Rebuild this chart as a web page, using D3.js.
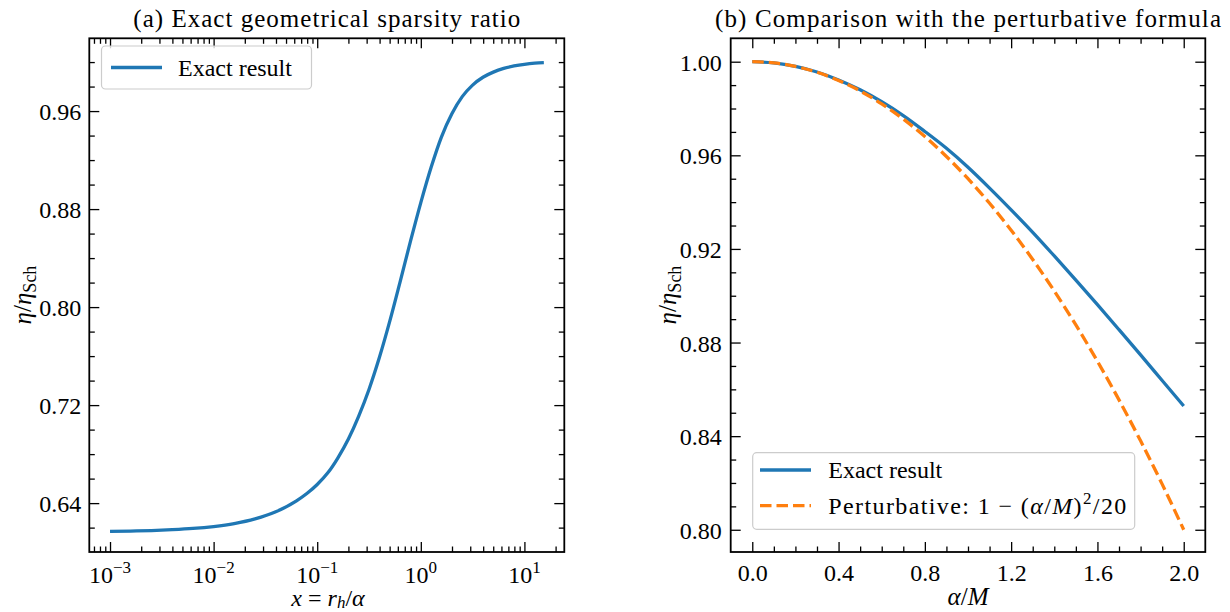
<!DOCTYPE html>
<html><head><meta charset="utf-8">
<script src="https://cdn.jsdelivr.net/npm/d3@7"></script>
<style>
body{margin:0;background:#fff}
svg{display:block}
svg text{font-family:"Liberation Serif","DejaVu Serif",serif !important;fill:#000}
</style>
</head><body>
<svg id="c" width="1230" height="612"></svg>
<script>
// ---------- data ----------
const ratioX = [0.001,0.00158,0.00251,0.00398,0.00631,0.01,0.0158,0.0251,0.0398,0.0631,0.0794,0.1,0.126,0.158,0.2,0.251,0.316,0.398,0.501,0.631,0.794,1.0,1.26,1.58,2.0,2.51,3.16,3.98,5.01,6.31,7.94,10.0,12.6,15.4];
const ratioY = [0.6169,0.6172,0.6176,0.6183,0.6193,0.6209,0.6233,0.6271,0.6329,0.6418,0.6478,0.6552,0.6645,0.6768,0.6923,0.7108,0.7328,0.7588,0.7883,0.8206,0.8536,0.8853,0.9143,0.9388,0.9580,0.9718,0.9812,0.9876,0.9918,0.9948,0.9968,0.9982,0.9991,0.9995];

const alphaM = [0,0.1,0.2,0.3,0.4,0.5,0.6,0.7,0.8,0.9,1.0,1.1,1.2,1.3,1.4,1.5,1.6,1.7,1.8,1.9,2.0];
const exactVals = [1.0000,0.9995,0.9980,0.9956,0.9922,0.9880,0.9829,0.9770,0.9702,0.9630,0.9549,0.9460,0.9367,0.9271,0.9170,0.9067,0.8962,0.8855,0.8747,0.8638,0.8529];
const pertVals = [1.0000,0.9995,0.9980,0.9955,0.9920,0.9875,0.9820,0.9755,0.9680,0.9595,0.9500,0.9395,0.9280,0.9155,0.9020,0.8875,0.8720,0.8555,0.8380,0.8195,0.8000];

const leftXTicks = [1e-3,1e-2,1e-1,1e0,1e1];
const leftXTickExp = ["\u22123","\u22122","\u22121","0","1"];
const leftYTicks = [0.64,0.72,0.80,0.88,0.96];
const rightXTicks = [0.0,0.4,0.8,1.2,1.6,2.0];
const rightYTicks = [0.80,0.84,0.88,0.92,0.96,1.00];
const titles = ["(a) Exact geometrical sparsity ratio","(b) Comparison with the perturbative formula"];
const legendLabels = ["Exact result","Perturbative: "];

const BLUE = "#1f77b4", ORANGE = "#ff7f0e";
const FONT = "'Liberation Serif','DejaVu Serif',serif";
const svg = d3.select("#c");
const TOP = 38.3, BOT = 552;

// ---------- scales ----------
const xL = d3.scaleLog().domain([Math.pow(10,-3.2), Math.pow(10,1.385)]).range([89.3,564.3]);
const yL = d3.scaleLinear().domain([0.6001,1.0194]).range([BOT,TOP]);
const xR = d3.scaleLinear().domain([-0.1,2.1]).range([730.7,1205.3]);
const yR = d3.scaleLinear().domain([0.7905,1.01]).range([BOT,TOP]);

// minor ticks
const leftXMinor = [];
for (let e=-4;e<=1;e++) for (let k=2;k<=9;k++){ const v=k*Math.pow(10,e); if (v>xL.domain()[0] && v<xL.domain()[1]) leftXMinor.push(v); }
const leftYMinor = d3.range(31,51).map(i=>i*0.02).filter(v=>v>yL.domain()[0] && v<yL.domain()[1] && !leftYTicks.some(t=>Math.abs(t-v)<1e-6));
const rightXMinor = d3.range(0,21).map(i=>i/10).filter(v=>!rightXTicks.some(t=>Math.abs(t-v)<1e-6));
const rightYMinor = d3.range(80,101).map(i=>i/100).filter(v=>!rightYTicks.some(t=>Math.abs(t-v)<1e-6));

function styleAxis(g){
  g.attr("font-family",FONT);
  g.select(".domain").remove();
  g.selectAll(".tick line").attr("stroke","#000").attr("stroke-width",1.3);
  g.selectAll(".tick text").attr("font-size",24).attr("fill","#000");
}

function drawFrame(x,y,xMaj,xMin,yMaj,yMin,fx,fy,xPad,yPad){
  const x0=x.range()[0], x1=x.range()[1];
  svg.append("g").attr("transform",`translate(0,${BOT})`)
    .call(d3.axisBottom(x).tickValues(xMaj).tickSize(-10).tickSizeOuter(0).tickPadding(xPad).tickFormat(fx)).call(styleAxis);
  svg.append("g").attr("transform",`translate(0,${BOT})`)
    .call(d3.axisBottom(x).tickValues(xMin).tickSize(-5.5).tickSizeOuter(0).tickFormat("")).call(styleAxis);
  svg.append("g").attr("transform",`translate(0,${TOP})`)
    .call(d3.axisTop(x).tickValues(xMaj).tickSize(-10).tickSizeOuter(0).tickFormat("")).call(styleAxis);
  svg.append("g").attr("transform",`translate(0,${TOP})`)
    .call(d3.axisTop(x).tickValues(xMin).tickSize(-5.5).tickSizeOuter(0).tickFormat("")).call(styleAxis);
  svg.append("g").attr("transform",`translate(${x0},0)`)
    .call(d3.axisLeft(y).tickValues(yMaj).tickSize(-10).tickSizeOuter(0).tickPadding(yPad).tickFormat(fy)).call(styleAxis)
    .selectAll(".tick text").attr("dy","0.36em");
  svg.append("g").attr("transform",`translate(${x0},0)`)
    .call(d3.axisLeft(y).tickValues(yMin).tickSize(-5.5).tickSizeOuter(0).tickFormat("")).call(styleAxis);
  svg.append("g").attr("transform",`translate(${x1},0)`)
    .call(d3.axisRight(y).tickValues(yMaj).tickSize(-10).tickSizeOuter(0).tickFormat("")).call(styleAxis);
  svg.append("g").attr("transform",`translate(${x1},0)`)
    .call(d3.axisRight(y).tickValues(yMin).tickSize(-5.5).tickSizeOuter(0).tickFormat("")).call(styleAxis);
  svg.append("rect").attr("x",x0).attr("y",TOP).attr("width",x1-x0).attr("height",BOT-TOP)
    .attr("fill","none").attr("stroke","#000").attr("stroke-width",1.8);
}

// ---------- left panel ----------
const lineL = d3.line().x((d,i)=>xL(ratioX[i])).y(d=>yL(d)).curve(d3.curveMonotoneX);
svg.append("path").attr("d",lineL(ratioY)).attr("fill","none").attr("stroke",BLUE).attr("stroke-width",3.3).attr("stroke-linejoin","round");

drawFrame(xL,yL,leftXTicks,leftXMinor,leftYTicks,leftYMinor,()=>"",d3.format(".2f"),13,8);
leftXTicks.forEach((v,i)=>{
  const t = svg.append("text").attr("x",xL(v)).attr("y",583).attr("text-anchor","middle").attr("font-size",24);
  t.append("tspan").text("10");
  t.append("tspan").attr("dy",-10).attr("font-size",17).text(leftXTickExp[i]);
});

// ---------- right panel ----------
const lineE = d3.line().x((d,i)=>xR(alphaM[i])).y(d=>yR(d)).curve(d3.curveMonotoneX);
svg.append("path").attr("d",lineE(exactVals)).attr("fill","none").attr("stroke",BLUE).attr("stroke-width",3.3).attr("stroke-linejoin","round");
svg.append("path").attr("d",lineE(pertVals)).attr("fill","none").attr("stroke",ORANGE).attr("stroke-width",3.3).attr("stroke-dasharray","11.5,5");

drawFrame(xR,yR,rightXTicks,rightXMinor,rightYTicks,rightYMinor,d3.format(".1f"),d3.format(".2f"),12,9);

// ---------- titles ----------
[[titles[0],326.8,387],[titles[1],968,506]].forEach(([s,cx,w])=>{
  svg.append("text").attr("x",cx).attr("y",27).attr("text-anchor","middle").attr("font-size",25)
    .attr("textLength",w).attr("lengthAdjust","spacing").text(s);
});

// ---------- axis labels ----------
function yLabel(cx){
  const t = svg.append("text").attr("transform",`translate(${cx},295) rotate(-90)`).attr("text-anchor","middle").attr("font-size",25);
  t.append("tspan").attr("font-style","italic").text("\u03b7");
  t.append("tspan").text("/");
  t.append("tspan").attr("font-style","italic").text("\u03b7");
  t.append("tspan").attr("dy",5).attr("font-size",18).text("Sch");
}
yLabel(31); yLabel(676);

{
  const t = svg.append("text").attr("x",328).attr("y",606).attr("text-anchor","middle").attr("font-size",24);
  t.append("tspan").attr("font-style","italic").text("x");
  t.append("tspan").text(" = ");
  t.append("tspan").attr("font-style","italic").text("r");
  t.append("tspan").attr("font-style","italic").attr("dy",2).attr("font-size",17).text("h");
  t.append("tspan").attr("dy",-2).text("/");
  t.append("tspan").attr("font-style","italic").text("\u03b1");
}
{
  const t = svg.append("text").attr("x",968).attr("y",605).attr("text-anchor","middle").attr("font-size",25);
  t.append("tspan").attr("font-style","italic").text("\u03b1");
  t.append("tspan").text("/");
  t.append("tspan").attr("font-style","italic").text("M");
}

// ---------- legends ----------
svg.append("rect").attr("x",101.5).attr("y",46).attr("width",210).attr("height",43).attr("rx",4)
  .attr("fill","#fff").attr("fill-opacity",0.8).attr("stroke","#ccc").attr("stroke-width",1.2);
svg.append("line").attr("x1",111).attr("x2",162).attr("y1",67.5).attr("y2",67.5).attr("stroke",BLUE).attr("stroke-width",3.3);
svg.append("text").attr("x",178).attr("y",76).attr("font-size",24).text(legendLabels[0]);

svg.append("rect").attr("x",752.7).attr("y",452.7).attr("width",382).attr("height",76.6).attr("rx",4)
  .attr("fill","#fff").attr("fill-opacity",0.8).attr("stroke","#ccc").attr("stroke-width",1.2);
svg.append("line").attr("x1",760).attr("x2",811).attr("y1",470).attr("y2",470).attr("stroke",BLUE).attr("stroke-width",3.3);
svg.append("text").attr("x",828.3).attr("y",478).attr("font-size",24).text(legendLabels[0]);
svg.append("line").attr("x1",760).attr("x2",811).attr("y1",505.7).attr("y2",505.7).attr("stroke",ORANGE).attr("stroke-width",3.3).attr("stroke-dasharray","11.5,5");
{
  const t = svg.append("text").attr("x",828.3).attr("y",514).attr("font-size",24).attr("textLength",298).attr("lengthAdjust","spacing");
  t.append("tspan").text(legendLabels[1] + "1 \u2212 (");
  t.append("tspan").attr("font-style","italic").text("\u03b1");
  t.append("tspan").text("/");
  t.append("tspan").attr("font-style","italic").text("M");
  t.append("tspan").text(")");
  t.append("tspan").attr("dy",-10).attr("font-size",17).text("2");
  t.append("tspan").attr("dy",10).text("/20");
}
</script>
</body></html>
